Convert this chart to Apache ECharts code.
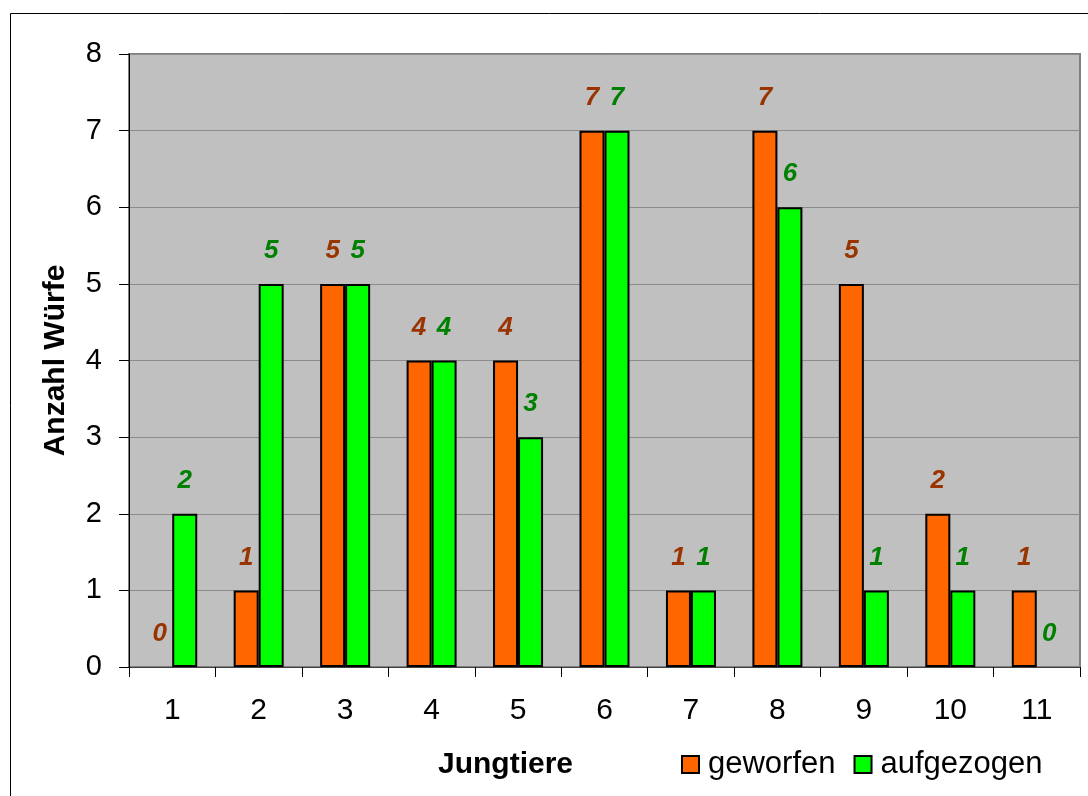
<!DOCTYPE html>
<html>
<head>
<meta charset="utf-8">
<script src="https://cdn.jsdelivr.net/npm/echarts@6/dist/echarts.min.js"></script>
<style>
  html, body { margin: 0; padding: 0; background: #ffffff; }
  #chart { width: 1088px; height: 796px; }
</style>
</head>
<body>
<div id="chart"></div>
<script>
// Litter size (number of young) per litter
const categories = ['1', '2', '3', '4', '5', '6', '7', '8', '9', '10', '11'];
// Litters born with that many young
const geworfen = [0, 1, 5, 4, 4, 7, 1, 7, 5, 2, 1];
// Litters raised with that many young
const aufgezogen = [2, 5, 5, 4, 3, 7, 1, 6, 1, 1, 0];
const yTicks = [0, 1, 2, 3, 4, 5, 6, 7, 8];

const FONT = 'Liberation Sans, Arial, sans-serif';

const chart = echarts.init(document.getElementById('chart'), null, { renderer: 'canvas' });

function labelStyle(color) {
  return {
    show: true,
    position: 'top',
    distance: 20,
    color: color,
    fontFamily: FONT,
    fontSize: 26,
    fontWeight: 'bold',
    fontStyle: 'italic'
  };
}

// Empty bars get no outline, so a zero shows only its label
function barData(values) {
  return values.map(v => (v === 0 ? { value: v, itemStyle: { borderWidth: 0 } } : v));
}

chart.setOption({
  animation: false,
  backgroundColor: '#ffffff',
  textStyle: { fontFamily: FONT },
  graphic: [{
    type: 'rect',
    left: 8, top: 11,
    shape: { width: 1200, height: 900 },
    style: { fill: 'none', stroke: '#000000', lineWidth: 1 },
    silent: true,
    z: -10
  }],
  title: {
    text: 'Jungtiere',
    left: 433,
    top: 745,
    textStyle: { fontFamily: FONT, fontSize: 30, fontWeight: 'bold', color: '#000000' }
  },
  legend: {
    left: 681,
    top: 749,
    padding: 0,
    itemWidth: 17,
    itemHeight: 17,
    itemGap: 18,
    icon: 'rect',
    textStyle: { fontFamily: FONT, fontSize: 31, color: '#000000', padding: [0, 0, 0, 4] },
    itemStyle: { borderColor: '#000000', borderWidth: 2 },
    data: ['geworfen', 'aufgezogen']
  },
  grid: {
    left: 129, right: 8, top: 54, bottom: 129,
    show: true,
    backgroundColor: '#c0c0c0',
    borderColor: '#808080',
    borderWidth: 2
  },
  xAxis: {
    type: 'category',
    data: categories,
    boundaryGap: true,
    axisLine: { show: true, lineStyle: { color: '#404040', width: 1 } },
    axisTick: { show: true, alignWithLabel: false, length: 10, lineStyle: { color: '#000000' } },
    axisLabel: { fontFamily: FONT, fontSize: 30, color: '#000000', margin: 29 }
  },
  yAxis: {
    type: 'value',
    min: yTicks[0],
    max: yTicks[yTicks.length - 1],
    interval: 1,
    name: 'Anzahl Würfe',
    nameLocation: 'middle',
    nameRotate: 90,
    nameGap: 58,
    nameTextStyle: { fontFamily: FONT, fontSize: 30, fontWeight: 'bold', color: '#000000' },
    axisLine: { show: true, lineStyle: { color: '#000000', width: 1 } },
    axisTick: { show: true, length: 10, lineStyle: { color: '#000000' } },
    axisLabel: { fontFamily: FONT, fontSize: 29, color: '#000000', margin: 27 },
    splitLine: { show: true, lineStyle: { color: '#8c8c8c', width: 1 } }
  },
  series: [
    {
      name: 'geworfen',
      type: 'bar',
      data: barData(geworfen),
      barWidth: 25,
      barGap: '0%',
      itemStyle: { color: '#ff6600', borderColor: '#000000', borderWidth: 2 },
      label: labelStyle('#993300')
    },
    {
      name: 'aufgezogen',
      type: 'bar',
      data: barData(aufgezogen),
      barWidth: 25,
      barGap: '0%',
      itemStyle: { color: '#00ff00', borderColor: '#000000', borderWidth: 2 },
      label: labelStyle('#008000')
    }
  ]
});
</script>
</body>
</html>
